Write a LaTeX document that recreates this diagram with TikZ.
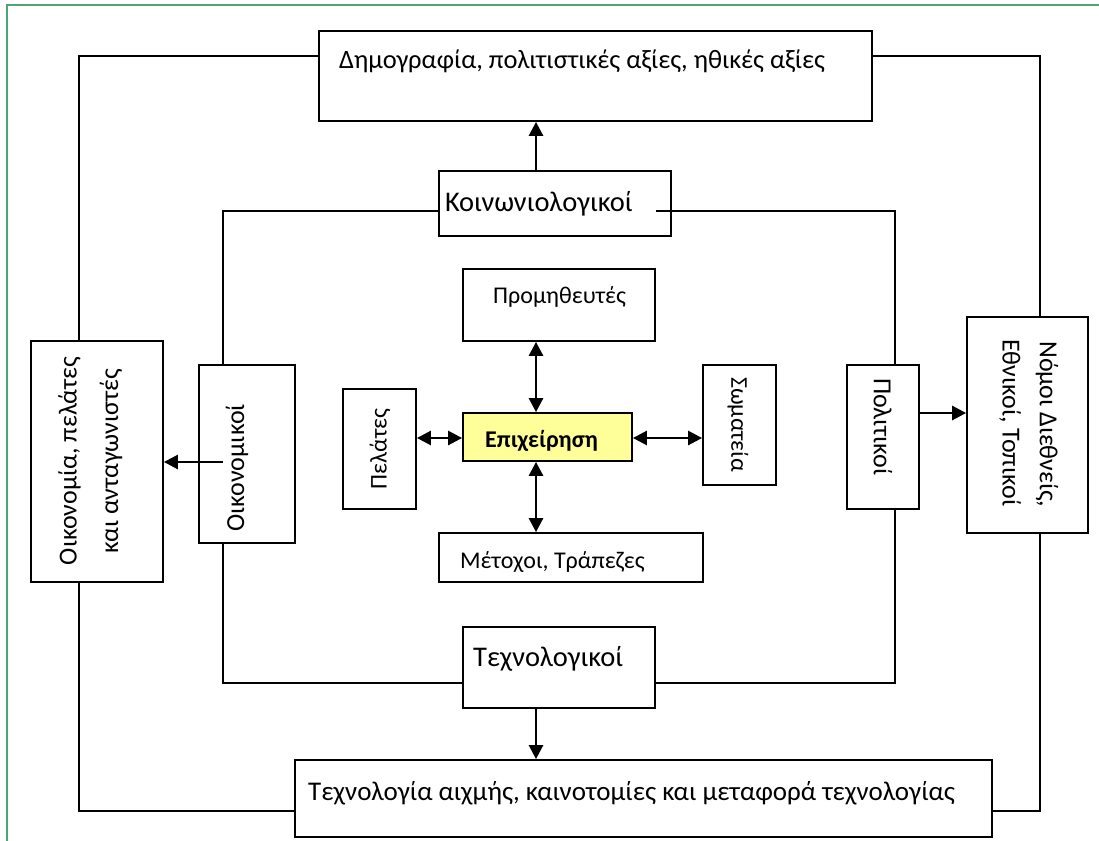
\documentclass[tikz,border=0pt]{standalone}
\usepackage{fontspec}
\setmainfont{Carlito}
\usetikzlibrary{arrows.meta}
\definecolor{frameGreen}{RGB}{78,166,116}
\definecolor{coreYellow}{RGB}{255,255,153}
\tikzset{
  boxn/.style={draw=black, line width=1.8pt, inner sep=0pt},
  txt/.style={inner sep=0pt, font=\fontsize{27}{32}\selectfont},
  txtr/.style={inner sep=0pt, font=\fontsize{26}{31}\selectfont},
  txts/.style={inner sep=0pt, font=\fontsize{24}{28}\selectfont},
  conn/.style={line width=1.6pt},
  arr/.style={line width=2.6pt, -{Triangle[length=14pt,width=14pt]}},
  darr/.style={line width=2.6pt, {Triangle[length=14pt,width=14pt]}-{Triangle[length=14pt,width=14pt]}},
}
\begin{document}
\begin{tikzpicture}[x=1pt,y=-1pt]
\useasboundingbox (0,0) rectangle (1099,840);
\fill[white] (0,0) rectangle (1099,840);
% green frame (top and left edges)
\draw[frameGreen, line width=2pt] (6.5,845) -- (6.5,5) -- (1105,5);

% boxes
\node[boxn, minimum width=553pt, minimum height=90pt] (top) at (595.5,76) {};
\node[boxn, minimum width=232pt, minimum height=65pt] (koin) at (555,203.5) {};
\node[boxn, minimum width=132pt, minimum height=241pt] (lbox) at (97,461.5) {};
\node[boxn, minimum width=96pt, minimum height=178pt] (oik) at (247,454) {};
\node[boxn, minimum width=192pt, minimum height=72pt] (prom) at (559,305) {};
\node[boxn, fill=coreYellow, minimum width=169pt, minimum height=48pt] (epix) at (547.5,437) {};
\node[boxn, minimum width=73pt, minimum height=120pt] (pel) at (379.5,449) {};
\node[boxn, minimum width=73pt, minimum height=120pt] (swm) at (739.5,425) {};
\node[boxn, minimum width=264pt, minimum height=49pt] (met) at (571,557.5) {};
\node[boxn, minimum width=72pt, minimum height=144pt] (pol) at (883,437) {};
\node[boxn, minimum width=121pt, minimum height=216pt] (nom) at (1027.5,425) {};
\node[boxn, minimum width=192pt, minimum height=81pt] (tech) at (559,667.5) {};
\node[boxn, minimum width=697pt, minimum height=77pt] (bot) at (643.5,798.5) {};

% texts
\node[txt, anchor=base west, font=\fontsize{26.5}{31}\selectfont] (topT) at (339,69) {Δημογραφία, πολιτιστικές αξίες, ηθικές αξίες};
\node[txt, anchor=base west, font=\fontsize{28.5}{33}\selectfont] (koinT) at (445,211) {Κοινωνιολογικοί};
\node[txt, anchor=base west, font=\fontsize{28.5}{33}\selectfont] (techT) at (473,666) {Τεχνολογικοί};
\node[txt, anchor=base west] (botT) at (308,800) {Τεχνολογία αιχμής, καινοτομίες και μεταφορά τεχνολογίας};
\node[txts, anchor=base west] (promT) at (493,303) {Προμηθευτές};
\node[txts, anchor=base west, font=\fontsize{24}{28}\selectfont\bfseries] (epixT) at (485,447) {Επιχείρηση};
\node[txts, anchor=base west] (metT) at (460,568) {Μέτοχοι, Τράπεζες};
\node[txts, rotate=90] (pelT) at (380,449) {Πελάτες};
\node[txts, rotate=-90, anchor=west] (swmT) at (738,377) {Σωματεία};
\node[txtr, rotate=90, anchor=west] (oikT) at (237,532) {Οικονομικοί};
\node[txtr, rotate=-90, anchor=west] (polT) at (883,378) {Πολιτικοί};
\node[txtr, rotate=90] (lboxT1) at (69.5,461) {Οικονομία, πελάτες};
\node[txtr, rotate=90] (lboxT2) at (111,461) {και ανταγωνιστές};
\node[txtr, rotate=-90, anchor=west] (nomT1) at (1047,341) {Νόμοι Διεθνείς,};
\node[txtr, rotate=-90, anchor=west] (nomT2) at (1010,339) {Εθνικοί, Τοπικοί};

% named corner coordinates
\coordinate (oTL) at (79,56);
\coordinate (oTR) at (1040,56);
\coordinate (oBL) at (79,811);
\coordinate (oBR) at (1040,811);
\coordinate (iTL) at (223,211);
\coordinate (iTR) at (895,211);
\coordinate (iBL) at (223,683);
\coordinate (iBR) at (895,683);
\coordinate (vx) at (536,0);
\coordinate (hy) at (0,438);
\coordinate (ay) at (0,462);
\coordinate (py) at (0,413);
\coordinate (kIn) at (656,211);

% outer loop
\draw[conn] (top.west |- oTL) -- (oTL) -- (lbox.north -| oTL);
\draw[conn] (lbox.south -| oBL) -- (oBL) -- (bot.west |- oBL);
\draw[conn] (bot.east |- oBR) -- (oBR) -- (nom.south -| oBR);
\draw[conn] (nom.north -| oTR) -- (oTR) -- (top.east |- oTR);

% inner loop
\draw[conn] (koin.west |- iTL) -- (iTL) -- (oik.north -| iTL);
\draw[conn] (oik.south -| iBL) -- (iBL) -- (tech.west |- iBL);
\draw[conn] (tech.east |- iBR) -- (iBR) -- (pol.south -| iBR);
\draw[conn] (pol.north -| iBR) -- (iTR) -- (kIn);

% arrows
\draw[arr] (koin.north -| vx) -- (top.south -| vx);
\draw[arr] (tech.south -| vx) -- (bot.north -| vx);
\draw[darr] (prom.south -| vx) -- (epix.north -| vx);
\draw[darr] (epix.south -| vx) -- (met.north -| vx);
\draw[darr] (pel.east |- hy) -- (epix.west |- hy);
\draw[darr] (epix.east |- hy) -- (swm.west |- hy);
\draw[arr] (iTL |- ay) -- (lbox.east |- ay);
\draw[arr] (pol.east |- py) -- (nom.west |- py);
\end{tikzpicture}
\end{document}
